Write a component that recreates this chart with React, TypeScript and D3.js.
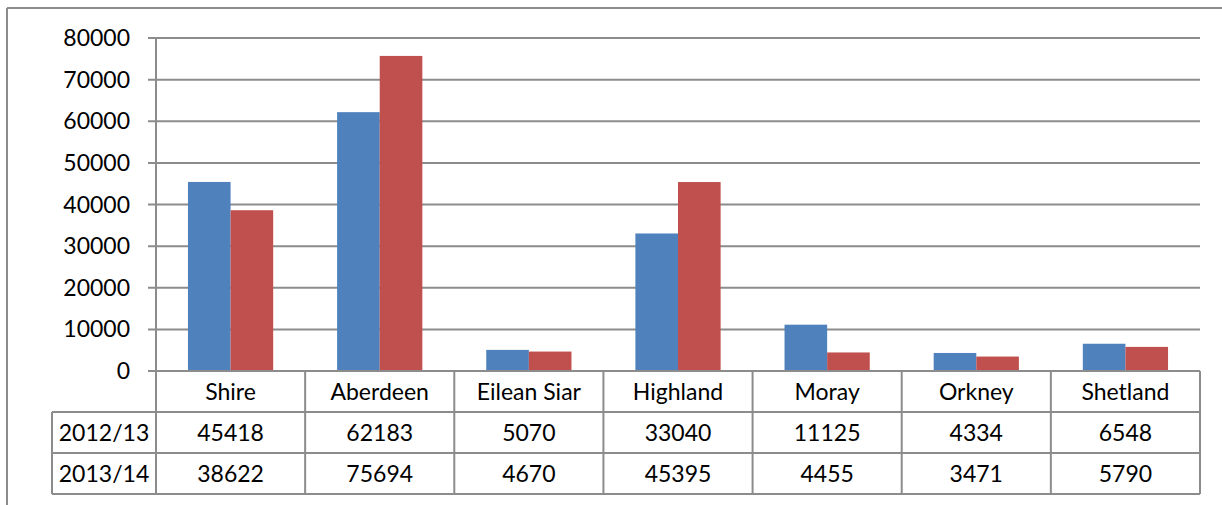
import React from "react";
import * as d3 from "d3";

const categories = ["Shire", "Aberdeen", "Eilean Siar", "Highland", "Moray", "Orkney", "Shetland"];
const seriesNames = ["2012/13", "2013/14"];
const values2012 = [45418, 62183, 5070, 33040, 11125, 4334, 6548];
const values2013 = [38622, 75694, 4670, 45395, 4455, 3471, 5790];
const yTicks = [0, 10000, 20000, 30000, 40000, 50000, 60000, 70000, 80000];
const colors = ["#4F81BD", "#C0504D"];

export default function App() {
  const W = 1222, H = 505;
  const left = 156, right = 1200, top = 38, bottom = 371;
  const rowH = 41;
  const tableLeft = 52;
  const font = "Lato, 'Open Sans', sans-serif";
  const fs = 23;
  const grid = "#8c8c8c";

  const x = d3.scaleBand().domain(categories).range([left, right]).paddingInner(0).paddingOuter(0);
  const bw = x.bandwidth() / 3.5;
  const y = d3.scaleLinear().domain([0, 80000]).range([bottom, top]);
  const series = [values2012, values2013];

  return (
    <svg width={W} height={H} style={{ position: "absolute", left: 0, top: 0, background: "#fff" }}>
      <rect x={0} y={0} width={W} height={H} fill="#fff" />
      {/* outer frame */}
      <line x1={7} y1={8} x2={W} y2={8} stroke={grid} strokeWidth={2} />
      <line x1={7} y1={8} x2={7} y2={H} stroke={grid} strokeWidth={2} />
      {/* gridlines */}
      {yTicks.map((t) => (
        <g key={t}>
          <line x1={left - 8} x2={right} y1={y(t)} y2={y(t)} stroke={grid} strokeWidth={2} />
          <text x={130} y={y(t)} dy="0.35em" textAnchor="end" fontFamily={font} fontSize={fs} fill="#000">
            {t}
          </text>
        </g>
      ))}
      {/* bars */}
      {categories.map((c, i) => (
        <g key={c}>
          {series.map((s, j) => (
            <rect
              key={j}
              x={(x(c) as number) + 0.75 * bw + j * bw}
              y={y(s[i])}
              width={bw}
              height={y(0) - y(s[i])}
              fill={colors[j]}
            />
          ))}
        </g>
      ))}
      {/* y axis line */}
      <line x1={left} x2={left} y1={top} y2={bottom + 3 * rowH} stroke={grid} strokeWidth={2} />
      {/* table horizontal lines */}
      <line x1={left} x2={right} y1={bottom} y2={bottom} stroke={grid} strokeWidth={2} />
      {[1, 2, 3].map((r) => (
        <line key={r} x1={tableLeft} x2={right} y1={bottom + r * rowH} y2={bottom + r * rowH} stroke={grid} strokeWidth={2} />
      ))}
      <line x1={tableLeft} x2={tableLeft} y1={bottom + rowH} y2={bottom + 3 * rowH} stroke={grid} strokeWidth={2} />
      {categories.map((c) => (
        <line key={c} x1={(x(c) as number) + x.bandwidth()} x2={(x(c) as number) + x.bandwidth()} y1={bottom} y2={bottom + 3 * rowH} stroke={grid} strokeWidth={2} />
      ))}
      {/* category labels */}
      {categories.map((c) => (
        <text key={c} x={(x(c) as number) + x.bandwidth() / 2} y={bottom + rowH / 2} dy="0.35em" textAnchor="middle" fontFamily={font} fontSize={fs} fill="#000">
          {c}
        </text>
      ))}
      {/* series rows */}
      {seriesNames.map((n, j) => (
        <g key={n}>
          <text x={(tableLeft + left) / 2} y={bottom + rowH * (j + 1) + rowH / 2} dy="0.35em" textAnchor="middle" fontFamily={font} fontSize={fs} fill="#000">
            {n}
          </text>
          {categories.map((c, i) => (
            <text key={c} x={(x(c) as number) + x.bandwidth() / 2} y={bottom + rowH * (j + 1) + rowH / 2} dy="0.35em" textAnchor="middle" fontFamily={font} fontSize={fs} fill="#000">
              {series[j][i]}
            </text>
          ))}
        </g>
      ))}
    </svg>
  );
}
